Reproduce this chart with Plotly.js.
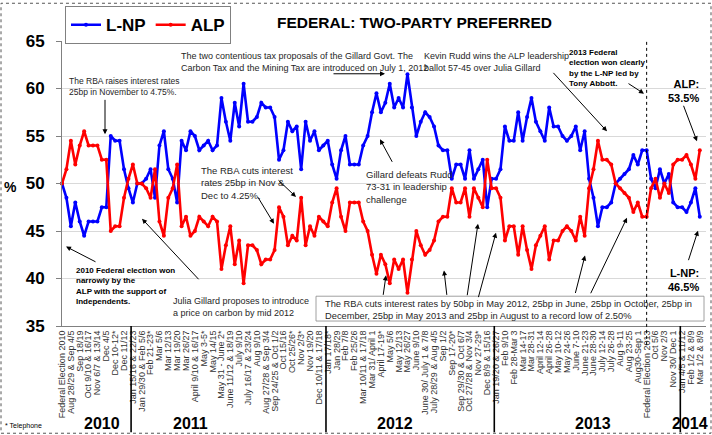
<!DOCTYPE html>
<html>
<head>
<meta charset="utf-8">
<script src="https://cdn.plot.ly/plotly-3.0.1.min.js"></script>
<style>html,body{margin:0;padding:0;background:#fff;}#chart{width:712px;height:435px;}</style>
</head>
<body>
<div id="chart"></div>
<script>
// ---- DATA ----
const lnp = [50,48.5,45.5,48,46,44.5,46,46,46,47.5,
  47.5,55,54.5,54.5,51.5,49.5,48,50,50,50.5,
  51.5,48.5,54,55.5,51.5,50.5,48,54.5,53.5,55.5,
  55,53.5,54,54.5,53.5,54,59,56.5,54.5,58.5,
  56,60.5,56.5,56.5,57,58.5,58,58,57,52.5,
  53.5,56.5,55.5,56,51.5,56.5,54.5,55.5,53.5,54,
  54.5,52,50.5,53.5,55,52,52,52,54,55,
  57.5,59.5,57.5,58.5,60.5,58,59,58,61.5,58,
  55,56.5,57.5,57,56,54,53.5,53.5,50.5,52,
  52,50.5,53.5,50.5,51.5,52.5,47.5,50.5,50.5,51.5,
  56,54.5,54.5,57.5,54.5,57,59,56.5,55.5,54.5,
  58,56,56,55,54.5,55,56,53.5,55.5,50.5,
  48.5,45.5,47.5,47.5,48,50,50.5,51,51.5,53,
  52,53.5,53.5,50.5,49.5,51.5,50,51,48,47.5,
  47.5,47,48,49.5,46.5];
const alp = [50,51.5,54.5,52,54,55.5,54,54,54,52.5,
  52.5,45,45.5,45.5,48.5,50.5,52,50,50,49.5,
  48.5,51.5,46,44.5,48.5,49.5,52,45.5,46.5,44.5,
  45,46.5,46,45.5,46.5,46,41,43.5,45.5,41.5,
  44,39.5,43.5,43.5,43,41.5,42,42,43,47.5,
  46.5,43.5,44.5,44,48.5,43.5,45.5,44.5,46.5,46,
  45.5,48,49.5,46.5,45,48,48,48,46,45,
  42.5,40.5,42.5,41.5,39.5,42,41,42,38.5,42,
  45,43.5,42.5,43,44,46,46.5,46.5,49.5,48,
  48,49.5,46.5,49.5,48.5,47.5,52.5,49.5,49.5,48.5,
  44,45.5,45.5,42.5,45.5,43,41,43.5,44.5,45.5,
  42,44,44,45,45.5,45,44,46.5,44.5,49.5,
  51.5,54.5,52.5,52.5,52,50,49.5,49,48.5,47,
  48,46.5,46.5,49.5,50.5,48.5,50,49,52,52.5,
  52.5,53,52,50.5,53.5];
const tickLabels = ["Federal Election 2010","Aug 28/29 & Sep 4/5","Sep 18/19","Oct 9/10 & 16/17","Nov 6/7 & 13/14","Dec 4/5","Dec 10-12*","Dec 11/12",
  "Jan 15/16 & 22/23","Jan 29/30 & Feb 5/6","Feb 21-23*","Mar 5/6","Mar 12/13","Mar 19/20","Mar 26/27","April 9/10 & 16/17","May 3-5*","May 14/15","May 31 - June 2*","June 11/12 & 18/19","July 9/10","July 16/17 & 23/24","Aug 9/10","Aug 27/28 & Sep 3/4","Sep 24/25 & Oct 1/2","Oct 15/16","Oct 25/26*","Nov 2/3*","Nov 19/20","Dec 10/11 & 17/18",
  "Jan 17/18*","Jan 28/29","Feb 7/8","Feb 25/26","Mar 10/11 & 17/18","Mar 31/ April 1","April 17-19*","May 5/6","May 12/13","May 26/27","June 9/10","June 30/ July 1 & 7/8","July 28/29 & Aug 4/5","Sep 1/2","Sep 17-20*","Sep 29/30 & Oct 6/7","Oct 27/28 & Nov 3/4","Nov 27-29*","Dec 8/9 & 15/16",
  "Jan 19/20 & 26/27","Feb 9/10","Feb 28-Mar 3","Mar 14-17","Mar 28-31","April 12-14","April 26-28","May 10-12","May 24-26","June 7-10","June 21-23","June 28-30","July 12-14","July 26-28","Aug 9-11","Aug 23-25","Aug30-Sep 1","Federal Election 2013","Oct 5/6","Nov 2/3","Nov 30/ Dec 1",
  "Jan 4/5 & 11/12","Feb 1/2 & 8/9","Mar 1/2 & 8/9"];
const years = ["2010","2011","2012","2013","2014"];

// ---- LAYOUT HELPERS ----
const L=62, R=706, T=39, B=326;
const px = x => (x-L)/(R-L);
const py = y => (B-y)/(B-T);
const FONT = "Liberation Sans, Arial, sans-serif";
const xs = lnp.map((_, i) => i);
const tickvals = tickLabels.map((_, k) => 2*k);

const traces = [
  {x: xs, y: lnp, name: "L-NP", type: "scatter", mode: "lines+markers",
   line: {color: "#0000ff", width: 2.6}, marker: {color: "#0000ff", size: 4}, cliponaxis: false},
  {x: xs, y: alp, name: "ALP", type: "scatter", mode: "lines+markers",
   line: {color: "#ff0000", width: 2.6}, marker: {color: "#ff0000", size: 4}, cliponaxis: false}
];

function arrow(sx, sy, tx, ty){
  return {xref:"paper", yref:"paper", x:px(tx), y:py(ty), ax:sx-tx, ay:sy-ty,
    showarrow:true, text:"", arrowhead:2, arrowsize:1, arrowwidth:1, arrowcolor:"#000"};
}
function txt(x, y, text, opts){
  opts = opts || {};
  return {xref:"paper", yref:"paper", x:px(x), y:py(y), xanchor:opts.xanchor||"left", yanchor:"top",
    align:opts.align||"left", showarrow:false, text:text,
    font:{family:FONT, size:opts.size||9, color:opts.color||"#262626", weight:opts.bold?"bold":"normal"}};
}

const yearPos = [102, 190, 395, 593, 690];
const annotations = [
  {xref:"paper", yref:"paper", x:px(414), y:py(20), xanchor:"center", yanchor:"middle", showarrow:false,
   text:"FEDERAL: TWO-PARTY PREFERRED", font:{family:FONT, size:15.5, color:"#000", weight:"bold"}},
  {xref:"paper", yref:"paper", x:px(10), y:py(186), xanchor:"center", yanchor:"middle", showarrow:false,
   text:"%", font:{family:FONT, size:14, color:"#000", weight:"bold"}},
  txt(3, 421, "* Telephone", {size:7, color:"#000"}),
  txt(67, 72, "The RBA raises interest rates<br>25bp in November to 4.75%.", {size:8.5}),
  arrow(105, 97, 105, 133),
  txt(179, 47, "The two contentious tax proposals of the Gillard Govt. The<br>Carbon Tax and the Mining Tax are introduced on July 1, 2012"),
  arrow(332, 72, 385, 72),
  txt(422, 47, "Kevin Rudd wins the ALP leadership<br>ballot 57-45 over Julia Gillard"),
  arrow(552, 70, 607, 130),
  txt(567, 44, "2013 Federal<br>election won clearly<br>by the L-NP led by<br>Tony Abbott.", {size:8, bold:true, color:"#000"}),
  arrow(627, 81, 644, 92),
  txt(701, 74, "ALP:<br>53.5%", {size:11, bold:true, color:"#000", xanchor:"right", align:"right"}),
  arrow(683, 103, 697, 140),
  txt(701, 265, "L-NP:<br>46.5%", {size:11, bold:true, color:"#000", xanchor:"right", align:"right"}),
  arrow(688, 261, 698, 230),
  txt(364, 166, "Gillard defeats Rudd<br>73-31 in leadership<br>challenge", {size:9.5}),
  arrow(393, 162, 380, 138),
  txt(199, 162, "The RBA cuts interest<br>rates 25bp in Nov &<br>Dec to 4.25%.", {size:9.5}),
  arrow(277, 178, 296, 196),
  arrow(257, 195, 274, 223),
  txt(74, 264, "2010 Federal election won<br>narrowly by the<br>ALP with the support of<br>Independents.", {size:8, bold:true, color:"#000"}),
  arrow(97, 262, 66, 246),
  txt(171, 294, "Julia Gillard proposes to introduce<br>a price on carbon by mid 2012"),
  arrow(200, 280, 142, 218),
  txt(323, 297, "The RBA cuts interest rates by 50bp in May 2012, 25bp in June, 25bp in October, 25bp in<br>December, 25bp in May 2013 and 25bp in August to a record low of 2.50%", {size:9.3}),
  arrow(383, 296, 386, 275),
  arrow(447, 296, 444, 270),
  arrow(467, 296, 478, 223),
  arrow(478, 298, 496, 232),
  arrow(575, 294, 585, 255),
  arrow(590, 294, 627, 217)
];
years.forEach((yr, k) => {
  annotations.push({xref:"paper", yref:"paper", x:px(yearPos[k]), y:py(424), xanchor:"center", yanchor:"middle",
    showarrow:false, text:yr, font:{family:FONT, size:16, color:"#000", weight:"bold"}});
});

const shapes = [
  {type:"rect", xref:"paper", yref:"paper", x0:px(1), x1:px(711), y0:py(434), y1:py(1),
   line:{color:"#555", width:1, dash:"dot"}},
  {type:"rect", xref:"paper", yref:"paper", x0:px(316), x1:px(704), y0:py(321), y1:py(296),
   line:{color:"#888", width:0.8}, fillcolor:"rgba(255,255,255,0)"},
  {type:"line", xref:"x", yref:"paper", x0:132, x1:132, y0:py(345), y1:py(37),
   line:{color:"#000", width:1, dash:"dot"}}
];
[15.6, 59.6, 97.6, 139.6].forEach(v => {
  shapes.push({type:"line", xref:"x", yref:"paper", x0:v, x1:v, y0:0, y1:py(433),
    line:{color:"#000", width:1.6}});
});

const layout = {
  width:712, height:435,
  margin:{l:L, r:712-R, t:T, b:435-B, pad:0},
  paper_bgcolor:"#fff", plot_bgcolor:"#fff",
  showlegend:true,
  legend:{orientation:"h", x:px(65), y:py(4), xanchor:"left", yanchor:"top",
    bordercolor:"#808080", borderwidth:1, bgcolor:"#fff",
    font:{family:FONT, size:17, color:"#000", weight:"bold"}, itemwidth:30, tracegroupgap:0},
  xaxis:{range:[0, 145.4], tickmode:"array", tickvals:tickvals, ticktext:tickLabels,
    tickangle:-90, tickfont:{family:FONT, size:9, color:"#333"},
    showgrid:false, zeroline:false, showline:true, linecolor:"#808080", linewidth:1,
    ticks:"", fixedrange:true},
  yaxis:{range:[35, 65], dtick:5, tick0:35, showgrid:true, gridcolor:"#d9d9d9", gridwidth:1,
    zeroline:false, showline:true, linecolor:"#808080", linewidth:1,
    ticks:"outside", ticklen:5, tickcolor:"#808080",
    tickfont:{family:FONT, size:17, color:"#000", weight:"bold"}, ticklabelstandoff:8},
  annotations:annotations,
  shapes:shapes
};

Plotly.newPlot("chart", traces, layout, {displayModeBar:false, staticPlot:true});
</script>
</body>
</html>
